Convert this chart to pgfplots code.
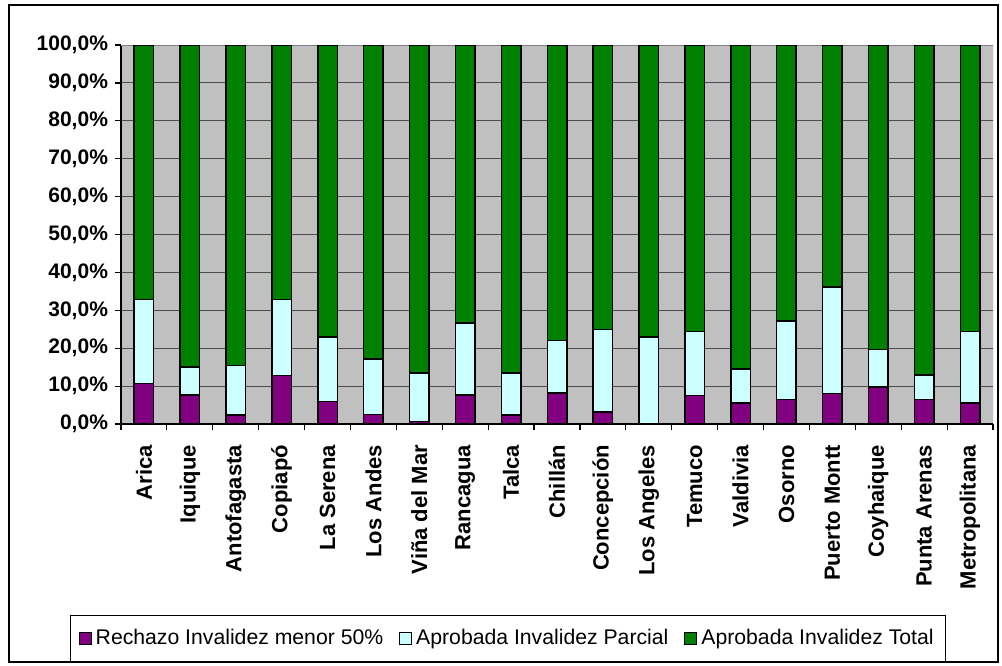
\documentclass[border=0pt]{standalone}
\usepackage{fontspec}
\setmainfont{Liberation Sans}
\usepackage{pgfplots}
\usepackage{pgfplotstable}
\pgfplotsset{compat=1.18}

\definecolor{rechazo}{HTML}{800080}
\definecolor{parcial}{HTML}{CCFFFF}
\definecolor{total}{HTML}{008000}
\definecolor{plotbg}{HTML}{C0C0C0}

% idx, rechazo, parcial, total (percent)
\pgfplotstableread{
x  rech  parc  tot
0  10.7  22.2  67.1
1   7.6   7.4  85.0
2   2.4  13.1  84.5
3  12.8  20.0  67.2
4   6.0  16.9  77.1
5   2.5  14.7  82.8
6   0.6  12.9  86.5
7   7.7  18.9  73.4
8   2.4  11.1  86.5
9   8.2  13.8  78.0
10  3.2  21.8  75.0
11  0.0  22.9  77.1
12  7.5  16.9  75.6
13  5.5   9.0  85.5
14  6.5  20.7  72.8
15  8.0  28.1  63.9
16  9.8   9.8  80.4
17  6.5   6.4  87.1
18  5.5  18.9  75.6
}\datos

\begin{document}
\begin{tikzpicture}
\begin{axis}[
  scale only axis,
  width=436pt, height=189.5pt,
  at={(0,0)}, anchor=south west,
  ybar stacked,
  bar width=9.75pt,
  xmin=-0.5, xmax=18.5,
  ymin=0, ymax=100,
  axis x line*=bottom,
  axis y line*=left,
  axis line style={black, line width=0.6pt},
  axis background/.style={fill=plotbg},
  ymajorgrids,
  grid style={draw=black!70, line width=0.5pt},
  tick align=outside,
  ytick={0,10,...,100},
  yticklabels={{0,0\%},{10,0\%},{20,0\%},{30,0\%},{40,0\%},{50,0\%},{60,0\%},{70,0\%},{80,0\%},{90,0\%},{100,0\%}},
  major tick length=3pt,
  tick style={black, line width=0.6pt},
  xtick={0,...,18},
  major x tick style={draw=none},
  minor xtick={-0.5,0.5,...,18.5},
  minor tick length=3pt,
  xticklabels={Arica,Iquique,Antofagasta,Copiapó,La Serena,Los Andes,Viña del Mar,Rancagua,Talca,Chillán,Concepción,Los Angeles,Temuco,Valdivia,Osorno,Puerto Montt,Coyhaique,Punta Arenas,Metropolitana},
  xticklabel style={rotate=90, anchor=east, font=\fontsize{11}{12}\selectfont\bfseries, xshift=-4pt},
  yticklabel style={font=\fontsize{10.5}{12}\selectfont\bfseries},
  legend columns=3,
  legend style={
    at={(0.444,-0.566)}, anchor=center,
    draw=black, line width=0.5pt, sharp corners,
    font=\fontsize{10.6}{12}\selectfont,
    inner xsep=4pt, inner ysep=5pt,
    /tikz/every even column/.append style={column sep=6pt},
  },
  legend image code/.code={\draw[#1, draw=black, line width=0.5pt] (0pt,-3pt) rectangle (6pt,3pt);},
  every axis plot/.append style={draw=black, line width=0.75pt},
]
\addplot[fill=rechazo] table[x=x, y=rech] {\datos};
\addplot[fill=parcial] table[x=x, y=parc] {\datos};
\addplot[fill=total] table[x=x, y=tot] {\datos};
\legend{Rechazo Invalidez menor 50\%, Aprobada Invalidez Parcial, Aprobada Invalidez Total}
\draw[black!50, line width=0.5pt] (rel axis cs:0,1) -- (rel axis cs:1,1) -- (rel axis cs:1,0);
\end{axis}
\draw[line width=0.75pt] (-56pt,-119pt) rectangle (438.5pt,209.5pt);
\path (-60.5pt,-120.5pt) rectangle (440.5pt,212pt);
\end{tikzpicture}
\end{document}
